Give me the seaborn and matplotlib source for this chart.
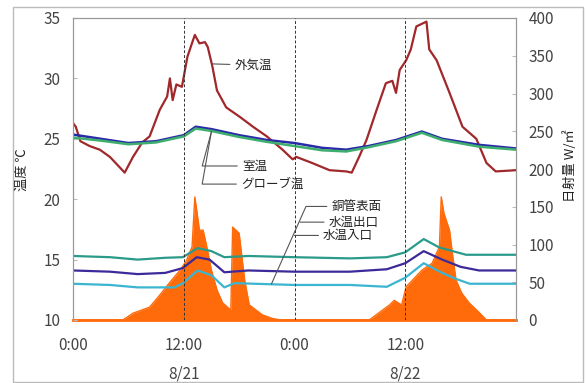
import numpy as np
import pandas as pd
import matplotlib
matplotlib.use('Agg')
import matplotlib.pyplot as plt
import matplotlib.transforms as mtransforms
from matplotlib.patches import Rectangle
import seaborn as sns

# ---------------- data (hours from 8/21 0:00) ----------------
out_h = [0, 0.3, 0.8, 1.8, 2.9, 4.0, 5.6, 6.5, 7.5, 8.3, 9.4, 10.2, 10.5, 10.8, 11.2, 11.8,
         12.4, 13.2, 13.7, 14.3, 14.6, 15.1, 15.6, 16.6, 18.1, 19.5, 21.0, 22.7, 23.8, 24.2,
         25.9, 27.8, 29.6, 30.2, 31.0, 31.8, 32.9, 33.9, 34.6, 35.0, 35.4, 36.1, 36.6, 37.2,
         38.3, 38.6, 39.4, 40.8, 42.2, 43.7, 44.8, 45.8, 48.0]
out_t = [26.3, 26.0, 24.8, 24.4, 24.1, 23.5, 22.2, 23.5, 24.7, 25.2, 27.4, 28.5, 30.0, 28.2, 29.5, 29.3,
         31.8, 33.6, 32.9, 33.0, 32.6, 31.0, 29.0, 27.6, 26.8, 26.0, 25.2, 24.1, 23.3, 23.5,
         23.0, 22.4, 22.3, 22.2, 23.5, 24.9, 27.4, 29.6, 29.8, 28.8, 30.7, 31.5, 32.4, 34.3,
         34.7, 32.4, 31.5, 28.8, 26.0, 25.0, 23.0, 22.3, 22.4]

room_h = [0, 3, 6, 9, 12, 13.3, 15, 18, 21, 24, 27, 29.6, 32, 35, 37.8, 40, 44, 48]
room_t = [25.35, 25.0, 24.65, 24.8, 25.3, 26.0, 25.8, 25.3, 24.9, 24.65, 24.25, 24.1, 24.4, 24.9,
          25.6, 25.0, 24.5, 24.2]
globe_t = [25.1, 24.85, 24.55, 24.7, 25.2, 25.85, 25.65, 25.15, 24.75, 24.4, 24.05, 23.95, 24.3, 24.8,
           25.5, 24.9, 24.35, 24.1]

w_h = [0, 4, 7, 10, 11.9, 13.5, 15.0, 16.4, 19, 24, 30, 34, 36, 38, 39.7, 42.6, 45, 48]
teal_t = [15.3, 15.2, 15.0, 15.15, 15.2, 15.95, 15.7, 15.2, 15.3, 15.2, 15.1, 15.2, 15.6, 16.7,
          16.0, 15.4, 15.4, 15.4]
navy_h = [0, 4, 7, 10, 11.9, 13.4, 14.8, 16.4, 19, 24, 30, 34, 36, 38, 40, 42, 44, 48]
navy_t = [14.1, 14.0, 13.8, 13.9, 14.3, 15.2, 15.0, 13.95, 14.1, 14.0, 14.0, 14.2, 14.7, 15.7,
          15.0, 14.4, 14.1, 14.1]
lb_h = [0, 4, 7, 11.0, 11.9, 13.5, 15.0, 16.4, 17.5, 24, 30, 34, 36, 38, 40, 41.5, 43, 48]
lb_t = [13.0, 12.9, 12.7, 12.7, 13.05, 14.1, 13.7, 12.7, 13.05, 12.9, 12.9, 12.75, 13.5, 14.7,
        13.9, 13.4, 13.0, 13.0]

rad_h = [0, 5.4, 6.5, 8.3, 9.4, 10.5, 11.6, 12.3, 12.9, 13.2, 13.4, 13.7, 14.1, 14.5, 15.0, 15.6,
         16.2, 17.1, 17.3, 18.0, 18.6, 19.1, 20.5, 21.6, 22.5, 32.1, 33.2, 34.3, 34.8, 35.6, 36.1,
         36.8, 37.8, 38.9, 39.7, 39.9, 40.2, 40.8, 41.1, 41.5, 42.1, 42.9, 44.0, 44.8, 48.0]
rad_w = [0, 0, 9, 17, 33, 50, 66, 79, 97, 163, 146, 119, 119, 97, 66, 40,
         23, 13, 123, 115, 53, 20, 7, 2, 0, 0, 10, 20, 26, 20, 44,
         53, 66, 75, 97, 163, 141, 119, 89, 53, 36, 23, 10, 0, 0]

tick_pos = [0, 12, 24, 36]
tick_lab = ['0:00', '12:00', '0:00', '12:00']
dates = ['8/21', '8/22']
date_pos = [12, 36]

# ---------------- style ----------------
sns.set_style('white')
plt.rcParams['font.family'] = ['Noto Sans CJK JP', 'DejaVu Sans']

ORANGE = '#FF6A0A'
fig = plt.figure(figsize=(5.87, 3.83), dpi=100)
ax = fig.add_axes([73 / 587, 63 / 383, 443 / 587, 302 / 383])
ax2 = ax.twinx()
ax.set_zorder(ax2.get_zorder() + 1)
ax.patch.set_visible(False)

# solar radiation (right axis)
ax2.fill_between(rad_h, rad_w, 0, color=ORANGE, lw=0)
sns.lineplot(x=rad_h, y=rad_w, ax=ax2, color=ORANGE, lw=1.0)
ax2.set_ylim(0, 400)
ax2.set_yticks(range(0, 401, 50))
ax2.set_ylabel('')

# temperatures (left axis)
sns.lineplot(x=out_h, y=out_t, ax=ax, color='#A0282A', lw=1.6)
sns.lineplot(x=room_h, y=room_t, ax=ax, color='#2A2AA8', lw=1.8)
sns.lineplot(x=room_h, y=globe_t, ax=ax, color='#3DAE6E', lw=1.8)
sns.lineplot(x=w_h, y=teal_t, ax=ax, color='#2A9A8A', lw=1.6)
sns.lineplot(x=navy_h, y=navy_t, ax=ax, color='#3C2A9A', lw=1.6)
sns.lineplot(x=lb_h, y=lb_t, ax=ax, color='#3BB5D0', lw=1.6)

for xv in [12, 24, 36]:
    ax.axvline(xv, color='#333333', lw=0.7, ls=(0, (3, 2)), zorder=5)

ax.set_xlim(0, 48)
ax.set_ylim(10, 35)
ax.set_yticks(range(10, 36, 5))
ax.set_xticks(tick_pos)
ax.set_xticklabels(tick_lab)
ax.set_xlabel('')
ax.set_ylabel('')

for a in (ax, ax2):
    for s in a.spines.values():
        s.set_color('#999999')
        s.set_linewidth(0.8)
ax.spines['bottom'].set_visible(False)
ax2.spines['bottom'].set_color(ORANGE)
ax2.spines['bottom'].set_linewidth(2.0)

ax.tick_params(axis='y', direction='in', length=3, color='#bbbbbb', pad=9,
               labelsize=11, labelcolor='#444444')
ax2.tick_params(axis='y', direction='in', length=3, color='#bbbbbb', pad=9,
                labelsize=11, labelcolor='#444444')
ax.tick_params(axis='x', length=0, pad=12, labelsize=11, labelcolor='#444444')

trans = mtransforms.blended_transform_factory(ax.transData, ax.transAxes)
for d, p in zip(dates, date_pos):
    ax.text(p, -0.178, d, transform=trans, ha='center', va='center', fontsize=11, color='#444444')

fig.text(22 / 587, 1 - 170 / 383, '温度 ℃', rotation=90, ha='center', va='center',
         fontsize=9.5, color='#222222')
fig.text(570 / 587, 1 - 166 / 383, '日射量 W/㎡', rotation=90, ha='center', va='center',
         fontsize=9.5, color='#222222')

# annotations
lc = dict(arrowstyle='-', color='#555555', lw=0.8, shrinkA=1, shrinkB=0)
fs = 9
ax.annotate('外気温', xy=(15.1, 31.2), xytext=(17.5, 31.1), fontsize=fs, va='center',
            ha='left', color='#222222', arrowprops=lc)
ax.annotate('室温', xy=(15.0, 25.6), xytext=(18.3, 22.75), fontsize=fs, va='center', ha='left',
            color='#222222', arrowprops=dict(lc, connectionstyle='angle,angleA=180,angleB=75,rad=0'))
ax.annotate('グローブ温', xy=(15.0, 25.6), xytext=(18.2, 21.25), fontsize=fs, va='center',
            ha='left', color='#222222',
            arrowprops=dict(lc, connectionstyle='angle,angleA=180,angleB=80,rad=0'))
ax.annotate('銅管表面', xy=(21.5, 12.98), xytext=(28.0, 19.4), fontsize=fs, va='center',
            ha='left', color='#222222',
            arrowprops=dict(lc, connectionstyle='angle,angleA=180,angleB=66,rad=0'))
ax.annotate('水温出口', xy=(24.6, 18.1), xytext=(27.7, 18.1), fontsize=fs, va='center',
            ha='left', color='#222222', arrowprops=lc)
ax.annotate('水温入口', xy=(24.0, 17.0), xytext=(27.1, 17.0), fontsize=fs, va='center',
            ha='left', color='#222222', arrowprops=lc)

fig.patches.append(Rectangle((13 / 587, 1 / 383), 570 / 587, 375 / 383, transform=fig.transFigure,
                             fill=False, edgecolor='#bbbbbb', lw=1.0))

fig.savefig('out.png', dpi=100)
